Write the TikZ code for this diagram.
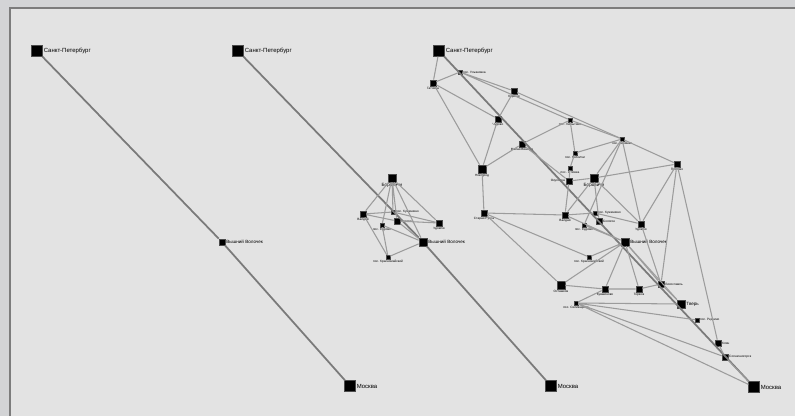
\documentclass[tikz,border=0pt]{standalone}
\usepackage{fontspec}
\setmainfont{Liberation Sans}
\usepackage{tikz}
\usepackage{xcolor}
\definecolor{mapOuter}{HTML}{D3D4D6}
\definecolor{mapPanel}{HTML}{E3E3E3}
\definecolor{mapFrame}{HTML}{7C7C7C}
\definecolor{mapRoad}{HTML}{9C9C9C}
\definecolor{mapRail}{HTML}{7A7A7A}
\tikzset{
  cityBig/.style={draw=black!70, fill=black, inner sep=0pt, minimum size=0.21cm},
  cityMid/.style={draw=black!70, fill=black, inner sep=0pt, minimum size=0.16cm},
  town/.style={draw=black!70, fill=black, inner sep=0pt, minimum size=0.12cm},
  village/.style={draw=black!70, fill=black, inner sep=0pt, minimum size=0.075cm},
  lblBig/.style={font=\fontsize{3.4}{4}\selectfont, inner sep=0.5pt},
  lblMid/.style={font=\fontsize{2.6}{3}\selectfont, inner sep=0.4pt},
  lblSmall/.style={font=\fontsize{1.8}{2}\selectfont, inner sep=0.3pt},
  road/.style={draw=mapRoad, line width=0.6pt},
  rail/.style={draw=mapRail, line width=1pt}
}

\begin{document}
\begin{tikzpicture}[x=0.02cm,y=-0.02cm]
  \useasboundingbox (0,0) rectangle (795,416);
  \fill[mapOuter] (0,0) rectangle (795,416);
  \fill[mapPanel] (11,8) rectangle (795,416);
  \draw[mapFrame, line width=1.1pt] (10,416) -- (10,8) -- (795,8);

  % --- left panel
  \node[cityBig, label={[lblBig]right:Санкт-Петербург}] (lSpb) at (37,51) {};
  \node[town, label={[lblMid]right:Вышний Волочек}] (lVv) at (222,242) {};
  \node[cityBig, label={[lblBig]right:Москва}] (lMsk) at (350,386) {};
  \draw[rail] (lSpb) -- (lVv) -- (lMsk);

  % --- middle panel
  \node[cityBig, label={[lblBig]right:Санкт-Петербург}] (mSpb) at (238,51) {};
  \node[cityBig, label={[lblBig]right:Москва}] (mMsk) at (551,386) {};
  \node[cityMid, label={[lblMid]below:Боровичи}] (mBor) at (392,178) {};
  \node[town, label={[lblSmall]below:Валдай}] (mVal) at (363,214) {};
  \node[village, label={[lblSmall]right:пос. Куженкино}] (mKuz) at (393,212) {};
  \node[town, label={[lblSmall]right:Бологое}] (mBol) at (397,221) {};
  \node[town, label={[lblSmall]below:Удомля}] (mUdo) at (439,223) {};
  \node[village, label={[lblSmall]below:пос. Едрово}] (mEdr) at (382,225) {};
  \node[cityMid, label={[lblMid]right:Вышний Волочек}] (mVv) at (423,242) {};
  \node[village, label={[lblSmall]below:пос. Красномайский}] (mKra) at (388,257) {};
  \draw[rail] (mSpb) -- (mVv) -- (mMsk);
  \draw[road] (mBor) -- (mVal) (mBor) -- (mKuz) (mBor) -- (mBol) (mBor) -- (mUdo)
    (mBor) -- (mVv) (mBor) -- (mEdr);
  \draw[road] (mVal) -- (mBol) (mVal) -- (mKuz) (mVal) -- (mKra);
  \draw[road] (mKuz) -- (mUdo) (mBol) -- (mUdo) (mBol) -- (mVv)
    (mEdr) -- (mVv) (mEdr) -- (mKra) (mKra) -- (mVv);

  % --- right panel
  \node[cityBig, label={[lblBig]right:Санкт-Петербург}] (rSpb) at (439,51) {};
  \node[village, label={[lblSmall]right:пос. Ульяновка}] (rUly) at (460,72) {};
  \node[town, label={[lblSmall]below:Гатчина}] (rGat) at (433,83) {};
  \node[town, label={[lblSmall]below:Кириши}] (rKir) at (514,91) {};
  \node[town, label={[lblSmall]below:Чудово}] (rChu) at (498,119) {};
  \node[town, label={[lblSmall]below:Малая Вишера}] (rMvi) at (522,144) {};
  \node[cityMid, label={[lblSmall]below:Новгород}] (rNov) at (482,169) {};
  \node[town, label={[lblSmall]below:Старая Русса}] (rSru) at (484,213) {};
  \node[village, label={[lblSmall]below:пос. Любытино}] (rLyu) at (570,120) {};
  \node[village, label={[lblSmall]below:пос. Неболчи}] (rNeb) at (575,153) {};
  \node[village, label={[lblSmall]below:пос. Угловка}] (rUgl) at (570,168) {};
  \node[town, label={[lblSmall]left:Окуловка}] (rOkl) at (569,181) {};
  \node[cityMid, label={[lblMid]below:Боровичи}] (rBor) at (594,178) {};
  \node[village, label={[lblSmall]below:пос. Хвойная}] (rHvo) at (622,139) {};
  \node[town, label={[lblSmall]below:Пестово}] (rPes) at (677,164) {};
  \node[town, label={[lblSmall]below:Валдай}] (rVal) at (565,215) {};
  \node[village, label={[lblSmall]right:пос. Куженкино}] (rKuz) at (595,213) {};
  \node[town, label={[lblSmall]right:Бологое}] (rBol) at (599,221) {};
  \node[village, label={[lblSmall]below:пос. Едрово}] (rEdr) at (584,225) {};
  \node[town, label={[lblSmall]below:Удомля}] (rUdo) at (641,224) {};
  \node[cityMid, label={[lblMid]right:Вышний Волочек}] (rVv) at (625,242) {};
  \node[village, label={[lblSmall]below:пос. Красномайский}] (rKra) at (589,257) {};
  \node[cityMid, label={[lblSmall]below:Осташков}] (rOst) at (561,285) {};
  \node[town, label={[lblSmall]below:Кувшиново}] (rKuv) at (605,289) {};
  \node[town, label={[lblSmall]below:Торжок}] (rTor) at (639,289) {};
  \node[town, label={[lblSmall]right:Лихославль}] (rLih) at (661,284) {};
  \node[cityMid, label={[lblMid]right:Тверь}] (rTve) at (681,304) {};
  \node[village, label={[lblSmall]below:пос. Селижарово}] (rSel) at (576,303) {};
  \node[village, label={[lblSmall]right:пос. Редкино}] (rRed) at (697,320) {};
  \node[town, label={[lblSmall]right:Клин}] (rKli) at (718,343) {};
  \node[town, label={[lblSmall]right:Солнечногорск}] (rSol) at (725,357) {};
  \node[cityBig, label={[lblBig]right:Москва}] (rMsk) at (754,387) {};

  \draw[rail] (rSpb) -- (rMsk);
  \draw[road] (rSpb) -- (rGat) (rGat) -- (rUly) (rGat) -- (rChu) (rGat) -- (rNov);
  \draw[road] (rUly) -- (rKir) (rUly) -- (rLyu) (rKir) -- (rChu) (rKir) -- (rHvo);
  \draw[road] (rChu) -- (rNov) (rMvi) -- (rNov) (rMvi) -- (rLyu) (rMvi) -- (rOkl);
  \draw[road] (rNov) -- (rSru) (rSru) -- (rVal) (rVal) -- (rKuz) (rSru) -- (rKra)
    (rSru) -- (rOst);
  \draw[road] (rLyu) -- (rNeb) (rLyu) -- (rHvo) (rNeb) -- (rHvo) (rNeb) -- (rUgl)
    (rUgl) -- (rOkl);
  \draw[road] (rOkl) -- (rVal) (rOkl) -- (rBor) (rBor) -- (rPes) (rBor) -- (rHvo)
    (rBor) -- (rBol) (rBor) -- (rUdo) (rBor) -- (rVal);
  \draw[road] (rHvo) -- (rPes) (rHvo) -- (rUdo) (rHvo) -- (rEdr);
  \draw[road] (rPes) -- (rUdo) (rPes) -- (rLih) (rPes) -- (rKli);
  \draw[road] (rVal) -- (rVv) (rKuz) -- (rUdo) (rEdr) -- (rVv) (rUdo) -- (rLih);
  \draw[road] (rVv) -- (rOst) (rVv) -- (rKuv) (rVv) -- (rTor) (rVv) -- (rKra)
    (rVv) -- (rLih);
  \draw[road] (rOst) -- (rKuv) (rKuv) -- (rTor) (rTor) -- (rLih) (rLih) -- (rTve);
  \draw[road] (rSel) -- (rKuv) (rSel) -- (rTve) (rSel) -- (rRed) (rSel) -- (rSol)
    (rSel) -- (rMsk);
  \draw[road] (rKli) -- (rSol) (rSol) -- (rMsk) (rVv) -- (rTve);
\end{tikzpicture}
\end{document}
